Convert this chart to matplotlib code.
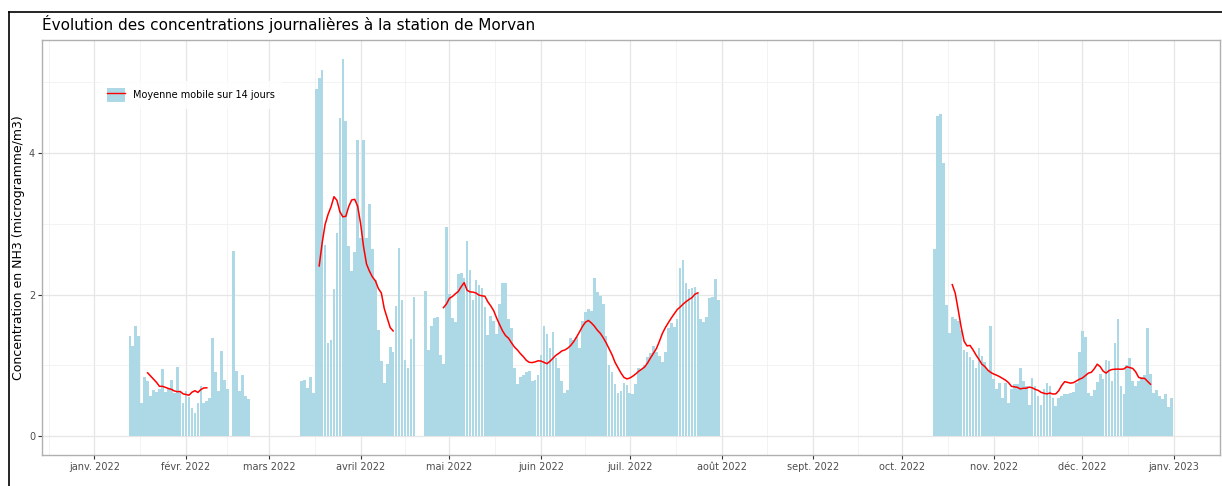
import numpy as np
import pandas as pd
import matplotlib
matplotlib.use("Agg")
import matplotlib.pyplot as plt
from matplotlib.patches import Patch
from matplotlib.lines import Line2D
from matplotlib.legend_handler import HandlerTuple

TITLE = "Évolution des concentrations journalières à la station de Morvan"
YLABEL = "Concentration en NH3 (microgramme/m3)"
LEGEND_LABEL = "Moyenne mobile sur 14 jours"

# daily NH3 concentrations read off the chart, one list per measurement campaign
# (nan = missing day inside a campaign)
seg1_start = "2022-01-13"
seg1_values = [1.42, 1.27, 1.56, 1.42, 0.47, 0.84, 0.78, 0.56, 0.65, 0.62,
               0.67, 0.94, 0.62, 0.67, 0.79, 0.61, 0.97, 0.63, 0.47, 0.64,
               0.55, 0.40, 0.33, 0.47, 0.71, 0.47, 0.49, 0.53, 1.39, 0.90,
               0.63, 1.20, 0.79, 0.66, np.nan, 2.61, 0.92, 0.64, 0.86, 0.57,
               0.52]

seg2_start = "2022-03-12"
seg2_values = [0.78, 0.79, 0.68, 0.83, 0.60, 4.91, 5.06, 5.18, 2.70, 1.32,
               1.36, 2.08, 2.87, 4.50, 5.33, 4.45, 2.68, 2.33, 2.60, 4.18,
               2.80, 4.19, 2.80, 3.28, 2.64, 2.20, 1.50, 1.06, 0.75, 1.02,
               1.26, 1.19, 1.84, 2.66, 1.92, 1.08, 0.96, 1.37, 1.97]

seg3_start = "2022-04-23"
seg3_values = [2.05, 1.21, 1.56, 1.67, 1.68, 1.14, 1.02, 2.95, 2.01, 1.67,
               1.61, 2.29, 2.30, 2.24, 2.75, 2.34, 1.92, 2.21, 2.14, 2.09,
               1.83, 1.43, 1.70, 1.62, 1.44, 1.87, 2.16, 2.16, 1.65, 1.52,
               0.96, 0.74, 0.84, 0.86, 0.91, 0.92, 0.78, 0.79, 0.86, 1.15,
               1.56, 1.44, 1.24, 1.47, 1.10, 0.96, 0.78, 0.60, 0.65, 1.39,
               1.36, 1.40, 1.25, 1.62, 1.75, 1.80, 1.76, 2.23, 2.03, 1.98,
               1.87, 1.42, 1.00, 0.90, 0.74, 0.60, 0.63, 0.75, 0.72, 0.60,
               0.59, 0.74, 0.96, 0.94, 1.01, 1.11, 1.17, 1.27, 1.18, 1.13,
               1.04, 1.18, 1.53, 1.60, 1.54, 1.65, 2.38, 2.49, 2.16, 2.08,
               2.09, 2.11, 2.02, 1.65, 1.61, 1.68, 1.95, 1.97, 2.22, 1.92]

seg4_start = "2022-10-12"
seg4_values = [2.65, 4.53, 4.56, 3.86, 1.85, 1.45, 1.68, 1.66, 1.63, 1.50,
               1.21, 1.18, 1.12, 1.07, 0.96, 1.25, 1.13, 1.05, 0.93, 1.55,
               0.81, 0.66, 0.75, 0.53, 0.75, 0.47, 0.67, 0.74, 0.73, 0.96,
               0.78, 0.71, 0.44, 0.82, 0.71, 0.56, 0.44, 0.66, 0.75, 0.70,
               0.54, 0.42, 0.54, 0.56, 0.59, 0.59, 0.61, 0.62, 0.75, 1.19,
               1.48, 1.40, 0.60, 0.56, 0.65, 0.76, 0.87, 0.80, 1.08, 1.06,
               0.77, 1.32, 1.66, 0.71, 0.59, 1.01, 1.10, 0.77, 0.71, 0.78,
               0.84, 0.86, 1.52, 0.88, 0.61, 0.65, 0.56, 0.52, 0.59, 0.41,
               0.53]

month_ticks = pd.date_range("2022-01-01", "2023-01-01", freq="MS")
month_labels = ["janv. 2022", "févr. 2022", "mars 2022", "avril 2022",
                "mai 2022", "juin 2022", "juil. 2022", "août 2022",
                "sept. 2022", "oct. 2022", "nov. 2022", "déc. 2022",
                "janv. 2023"]

BAR_COLOR = "#add8e6"

# one daily series for the whole year, gaps left as nan
days = pd.date_range("2022-01-01", "2022-12-31", freq="D")
conc = pd.Series(np.nan, index=days)
for start, vals in [(seg1_start, seg1_values), (seg2_start, seg2_values),
                    (seg3_start, seg3_values), (seg4_start, seg4_values)]:
    conc.loc[pd.date_range(start, periods=len(vals), freq="D")] = vals

# centred 14-day moving average (window t-6 .. t+7)
rolling = conc.rolling(14).mean().shift(-7)

fig = plt.figure(figsize=(12.22, 4.86), dpi=100)
ax = fig.add_axes([42 / 1222, 1 - 455 / 486, 1178 / 1222, 415 / 486])

obs = conc.dropna()
ax.bar(obs.index, obs.values, width=0.9, color=BAR_COLOR, zorder=2)
ax.plot(rolling.index, rolling.values, color="red", lw=1.1, zorder=3)

# axes limits and grid, ggplot-like
t0 = pd.Timestamp("2022-01-01")
ax.set_xlim(t0 - pd.Timedelta(days=17.7), t0 + pd.Timedelta(days=380.2))
ax.set_ylim(-0.27, 5.6)

ax.set_xticks(month_ticks)
ax.set_xticklabels(month_labels)
edges = pd.date_range("2021-12-01", "2023-02-01", freq="MS")
mids = [edges[i] + (edges[i + 1] - edges[i]) / 2 for i in range(len(edges) - 1)]
ax.set_xticks(mids, minor=True)
ax.set_yticks([0, 2, 4])
ax.set_yticks([1, 3, 5], minor=True)

ax.grid(which="major", color="#e6e6e6", lw=0.9, zorder=0)
ax.grid(which="minor", color="#f1f1f1", lw=0.6, zorder=0)
ax.set_axisbelow(True)

ax.tick_params(axis="both", which="major", labelsize=7, colors="#333333",
               labelcolor="#4d4d4d", length=3, width=0.8, pad=2)
ax.tick_params(axis="both", which="minor", length=0)
for s in ax.spines.values():
    s.set_color("#b0b0b0")
    s.set_linewidth(1.0)

handle = (Patch(facecolor=BAR_COLOR, edgecolor="none"),
          Line2D([], [], color="red", lw=1.0))
leg = ax.legend([handle], [LEGEND_LABEL], handler_map={tuple: HandlerTuple(ndivide=1)},
                loc="center left", bbox_to_anchor=(0.049, 0.867), borderaxespad=0,
                fontsize=7, handlelength=1.85, handleheight=1.75, borderpad=0.75,
                handletextpad=0.8, frameon=True, fancybox=False)
leg.get_frame().set_facecolor("white")
leg.get_frame().set_edgecolor("none")

fig.text(42 / 1222, 1 - 24 / 486, TITLE, fontsize=11, va="center", ha="left")
fig.text(18.5 / 1222, 1 - 248 / 486, YLABEL, fontsize=9, rotation=90,
         va="center", ha="center")

# outer frame of the original export (only top and left edges visible)
fig.add_artist(Line2D([8.5 / 1222, 8.5 / 1222], [0, 1 - 12.5 / 486],
                      transform=fig.transFigure, color="black", lw=1.2))
fig.add_artist(Line2D([8.5 / 1222, 1], [1 - 12.5 / 486, 1 - 12.5 / 486],
                      transform=fig.transFigure, color="black", lw=1.2))

fig.savefig("out.png", dpi=100)
